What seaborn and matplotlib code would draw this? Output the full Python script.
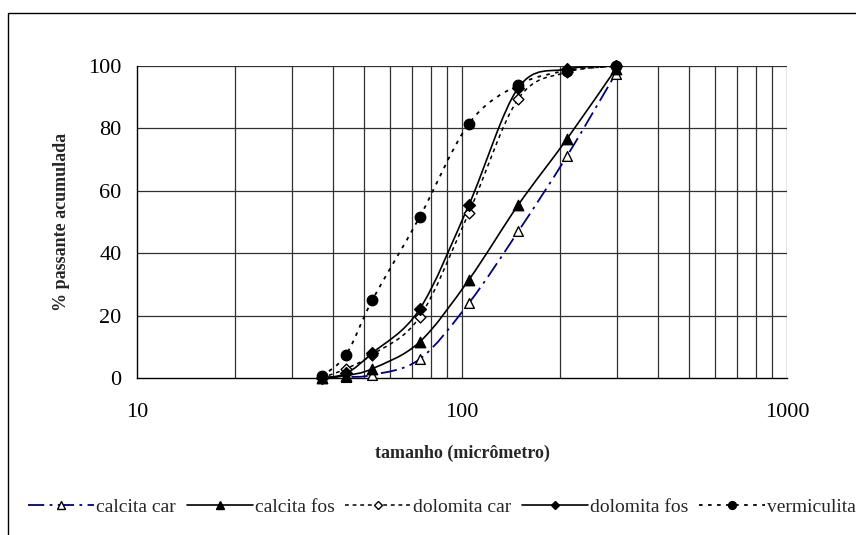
import numpy as np
import pandas as pd
import seaborn as sns
import matplotlib
matplotlib.use("Agg")
import matplotlib.pyplot as plt
from matplotlib.path import Path
from matplotlib.patches import PathPatch, Rectangle
from matplotlib.lines import Line2D

# Sieve openings (micrometres) and cumulative % passing for each material
sizes = [37, 44, 53, 74, 105, 149, 210, 297]
calcita_car = [0, 0.3, 1, 6, 24, 47, 71, 97.5]
calcita_fos = [0, 0.8, 3, 11.5, 31.5, 55.5, 76.5, 99]
dolomita_car = [0, 3, 7.5, 19.5, 53, 89.5, 98, 100]
dolomita_fos = [0, 1.5, 8, 22, 55.5, 93, 99, 100]
vermiculita = [0.5, 7.5, 25, 51.5, 81.5, 94, 98.5, 100]

series_names = ["calcita car", "calcita fos", "dolomita car", "dolomita fos", "vermiculita"]
series_values = [calcita_car, calcita_fos, dolomita_car, dolomita_fos, vermiculita]

styles = {
    "calcita car": dict(color="#000080", dashes=(9, 3, 1.5, 3), lw=1.3,
                        marker="^", mfc="white", mec="black", ms=7),
    "calcita fos": dict(color="black", dashes=None, lw=1.2,
                        marker="^", mfc="black", mec="black", ms=7.5),
    "dolomita car": dict(color="black", dashes=(2.5, 2.5), lw=1.1,
                         marker="D", mfc="white", mec="black", ms=5.5),
    "dolomita fos": dict(color="black", dashes=None, lw=1.2,
                         marker="D", mfc="black", mec="black", ms=6),
    "vermiculita": dict(color="black", dashes=(2, 3), lw=1.3,
                        marker="o", mfc="black", mec="black", ms=7.5),
}

df = pd.DataFrame({
    "tamanho": np.tile(sizes, len(series_names)),
    "passante": np.concatenate(series_values),
    "serie": np.repeat(series_names, len(sizes)),
})

sns.set_style("white")
plt.rcParams["font.family"] = ["Liberation Serif", "DejaVu Serif"]

fig = plt.figure(figsize=(8.56, 5.35), dpi=100)
ax = fig.add_axes([137 / 856, 1 - 378 / 535, 650 / 856, 312 / 535])
ax.set_xscale("log")
ax.set_xlim(10, 1000)
ax.set_ylim(0, 100)

# horizontal and vertical grid
for yv in [20, 40, 60, 80, 100]:
    ax.axhline(yv, color="#303030", lw=0.9, zorder=0)
for dec in [10, 100]:
    for k in range(2, 11):
        ax.axvline(dec * k, color="#303030", lw=0.9, zorder=0)

# one decade on the x axis spans as much screen length as this many % units
DECADE_IN_Y_UNITS = 650 / 2 / 312 * 100


def smooth_path(xs, ys):
    """Smoothed (cardinal-spline) Bezier path through the points, in log-x space."""
    u = np.log10(np.asarray(xs, float)) * DECADE_IN_Y_UNITS
    v = np.asarray(ys, float)
    pts = np.column_stack([u, v])
    n = len(pts)
    verts = [pts[0]]
    codes = [Path.MOVETO]
    for i in range(n - 1):
        p0 = pts[i - 1] if i > 0 else pts[i]
        p1 = pts[i]
        p2 = pts[i + 1]
        p3 = pts[i + 2] if i + 2 < n else pts[i + 1]
        c1 = p1 + (p2 - p0) / 6.0
        c2 = p2 - (p3 - p1) / 6.0
        verts += [c1, c2, p2]
        codes += [Path.CURVE4] * 3
    verts = np.array(verts)
    verts[:, 0] = 10 ** (verts[:, 0] / DECADE_IN_Y_UNITS)
    return Path(verts, codes)


handles = []
for name, vals in zip(series_names, series_values):
    st = styles[name]
    patch = PathPatch(smooth_path(sizes, vals), facecolor="none",
                      edgecolor=st["color"], lw=st["lw"], zorder=2)
    if st["dashes"] is not None:
        patch.set_linestyle((0, st["dashes"]))
    ax.add_patch(patch)
    sub = df[df["serie"] == name]
    sns.scatterplot(data=sub, x="tamanho", y="passante", ax=ax,
                    marker=st["marker"], s=st["ms"] ** 2,
                    facecolor=st["mfc"], edgecolor=st["mec"], linewidth=1.0,
                    zorder=3, legend=False, clip_on=False)
    h = Line2D([], [], color=st["color"], lw=st["lw"],
               linestyle=(0, st["dashes"]) if st["dashes"] is not None else "-",
               marker=st["marker"], markerfacecolor=st["mfc"],
               markeredgecolor=st["mec"], markersize=st["ms"] * 0.75,
               markeredgewidth=1.0)
    handles.append(h)

for side in ["top", "right"]:
    ax.spines[side].set_visible(False)
for side in ["left", "bottom"]:
    ax.spines[side].set_color("black")
    ax.spines[side].set_linewidth(1.0)

ax.set_yticks([0, 20, 40, 60, 80, 100])
ax.set_xticks([10, 100, 1000])
ax.set_xticklabels(["10", "100", "1000"])
ax.xaxis.set_minor_locator(matplotlib.ticker.NullLocator())
ax.tick_params(axis="both", which="major", direction="out", length=6,
               width=1.0, color="black", labelsize=16, labelcolor="black")
ax.tick_params(axis="x", pad=12)
ax.tick_params(axis="y", pad=5)

ax.set_xlabel("tamanho (micrômetro)", fontsize=13, fontweight="bold", labelpad=16)
ax.set_ylabel("% passante acumulada", fontsize=13, fontweight="bold", labelpad=13)

fig.legend(handles, series_names, loc="center left",
           bbox_to_anchor=(28 / 856, 1 - 507 / 535), ncol=5, frameon=False,
           fontsize=14, handlelength=3.4, handletextpad=0.1,
           columnspacing=0.55, borderaxespad=0, borderpad=0)

# chart frame
fig.patches.append(Rectangle((8 / 856, -0.05), 1.0, 1 - 13 / 535 + 0.05,
                             transform=fig.transFigure, fill=False,
                             edgecolor="black", lw=1.0))

fig.savefig("out.png", dpi=100)
